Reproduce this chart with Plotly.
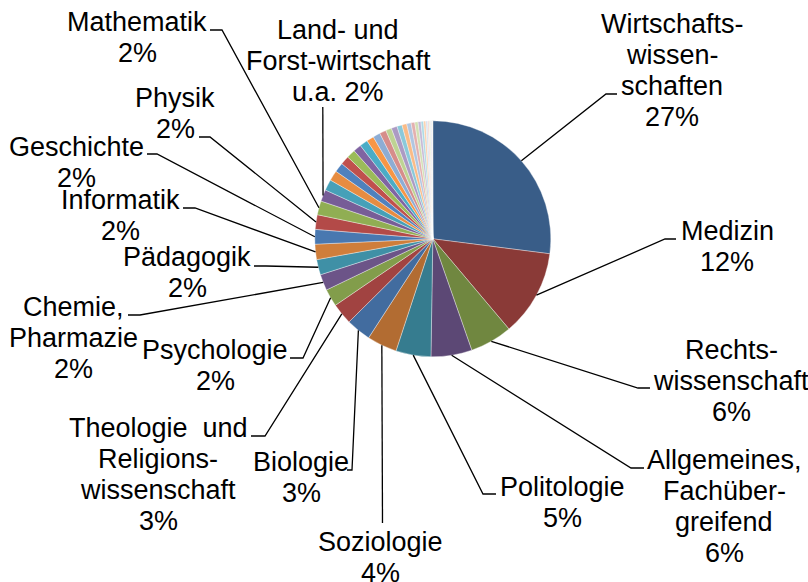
import math
import plotly.graph_objects as go

W, H = 808, 582

# Fächer (Anteile in %), im Uhrzeigersinn ab 12 Uhr
categories = [
    "Wirtschaftswissenschaften", "Medizin", "Rechtswissenschaft",
    "Allgemeines, Fachübergreifend", "Politologie", "Soziologie", "Biologie",
    "Theologie und Religionswissenschaft", "Psychologie", "Chemie, Pharmazie",
    "Pädagogik", "Informatik", "Geschichte", "Physik", "Mathematik",
    "Land- und Forstwirtschaft u.a.",
] + ["Weitere %d" % i for i in range(1, 27)]

values = [
    27.0, 11.8, 5.8, 5.6, 4.8, 4.1, 3.4, 2.9, 2.4, 2.2, 2.1, 2.1, 2.0, 2.0, 1.9, 1.6,
    1.5, 1.4, 1.3, 1.2, 1.2, 1.1, 1.1, 1.0, 1.0, 0.9, 0.8, 0.8, 0.7,
    0.65, 0.6, 0.5, 0.45, 0.4, 0.35, 0.3, 0.25, 0.2, 0.2, 0.15, 0.1, 0.05,
]

# Beschriftung der ersten 16 Segmente ({p} = gerundeter Anteil)
label_texts = [
    ["Wirtschafts-", "wissen-", "schaften", "{p}%"],
    ["Medizin", "{p}%"],
    ["Rechts-", "wissenschaft", "{p}%"],
    ["Allgemeines,", "Fachüber-", "greifend", "{p}%"],
    ["Politologie", "{p}%"],
    ["Soziologie", "{p}%"],
    ["Biologie", "{p}%"],
    ["Theologie  und", "Religions-", "wissenschaft", "{p}%"],
    ["Psychologie", "{p}%"],
    ["Chemie,", "Pharmazie", "{p}%"],
    ["Pädagogik", "{p}%"],
    ["Informatik", "{p}%"],
    ["Geschichte", "{p}%"],
    ["Physik", "{p}%"],
    ["Mathematik", "{p}%"],
    ["Land- und", "Forst-wirtschaft", "u.a. {p}%"],
]

# label placement in pixels: text centre x, first line y, elbow point, line end
label_pos = [
    (672, 24, (606, 94), (617, 94)),
    (727, 231, (665, 239), (676, 239)),
    (731, 350, (638, 388), (650, 388)),
    (724, 460, (631, 468), (644, 468)),
    (562, 487, (483, 494), (496, 494)),
    (380, 542, (382.5, 523), (382.5, 523)),
    (301, 462, (352, 470), (347, 470)),
    (158, 428, (265, 436), (251, 436)),
    (215, 350, (303, 358), (290, 358)),
    (73, 307, (140, 315), (128, 315)),
    (187, 257, (266, 266), (254, 266)),
    (120, 200, (195, 208), (183, 208)),
    (76, 147, (157, 154), (147, 154)),
    (175, 98, (210, 137), (199, 137)),
    (137, 22, (222, 30), (210, 30)),
    (338, 30, (322.8, 107), (322.8, 107)),
]

# Office-Farben, pro Durchlauf dunkler bzw. heller
accents = ["#4F81BD", "#C0504D", "#9BBB59", "#8064A2", "#4BACC6", "#F79646"]
cycle_mods = [("s", 0.72), ("s", 0.84), ("s", 0.93), ("s", 1.0),
              ("t", 0.35), ("t", 0.55), ("t", 0.75)]


def mod_color(hexcol, mode, f):
    rgb = [int(hexcol[i:i + 2], 16) for i in (1, 3, 5)]
    if mode == "s":
        rgb = [round(c * f) for c in rgb]
    else:
        rgb = [round(c + (255 - c) * f) for c in rgb]
    return "rgb(%d,%d,%d)" % tuple(rgb)


colors = [mod_color(accents[i % 6], *cycle_mods[i // 6]) for i in range(len(values))]

# pie geometry (pixels)
cx, cy, r = 432.8, 238.8, 118.0


def px(x):
    return x / W


def py(y):
    return 1 - y / H


fig = go.Figure()
fig.add_trace(go.Pie(
    labels=categories,
    values=values,
    sort=False,
    direction="clockwise",
    rotation=0,
    textinfo="none",
    marker=dict(colors=colors, line=dict(color="rgba(255,255,255,0.6)", width=0.6)),
    domain=dict(x=[px(cx - r), px(cx + r)], y=[py(cy + r), py(cy - r)]),
    showlegend=False,
))

total = sum(values)
annotations = []
shapes = []
cum = 0.0
for i, v in enumerate(values):
    mid = (cum + v / 2) / total * 2 * math.pi
    cum += v
    if i >= len(label_texts):
        continue
    sx = cx + r * math.sin(mid)
    sy = cy - r * math.cos(mid)
    tx, ty, elbow, end = label_pos[i]
    pct = round(v / total * 100)
    path = "M %f,%f L %f,%f L %f,%f" % (px(sx), py(sy), px(elbow[0]), py(elbow[1]),
                                          px(end[0]), py(end[1]))
    shapes.append(dict(type="path", xref="paper", yref="paper", path=path,
                       line=dict(color="black", width=1.3)))
    for k, line in enumerate(label_texts[i]):
        annotations.append(dict(
            x=px(tx), y=py(ty + k * 31), xref="paper", yref="paper",
            text=line.replace("{p}", str(pct)), showarrow=False,
            xanchor="center", yanchor="middle",
            font=dict(size=27, color="black"),
        ))

fig.update_layout(
    width=W, height=H,
    margin=dict(l=0, r=0, t=0, b=0),
    paper_bgcolor="white",
    font=dict(family="Liberation Sans, Arial, sans-serif"),
    annotations=annotations,
    shapes=shapes,
)

fig.write_html("out.html", config={"displayModeBar": False},
               post_script="document.body.style.margin='0';")
